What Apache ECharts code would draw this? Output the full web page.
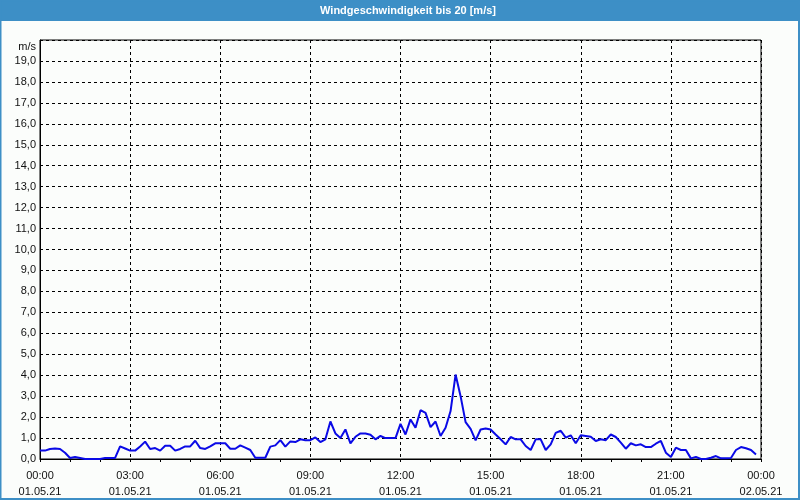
<!DOCTYPE html>
<html>
<head>
<meta charset="utf-8">
<script src="https://cdn.jsdelivr.net/npm/echarts@6/dist/echarts.min.js"></script>
<style>
html,body{margin:0;padding:0;background:#fbfdfb;}
#chart{width:800px;height:500px;}
</style>
</head>
<body>
<div id="chart"></div>
<script>
// Minutes after 01.05.21 00:00
const minutes = [
  0,10,20,30,40,50,60,70,80,90,100,110,120,130,140,150,160,170,180,190,
  200,210,220,230,240,250,260,270,280,290,300,310,320,330,340,350,360,370,380,390,
  400,410,420,430,440,450,460,470,480,490,500,510,520,530,540,550,560,570,580,590,
  600,610,620,630,640,650,660,670,680,690,700,710,720,730,740,750,760,770,780,790,
  800,810,820,830,840,850,860,870,880,890,900,910,920,930,940,950,960,970,980,990,
  1000,1010,1020,1030,1040,1050,1060,1070,1080,1090,1100,1110,1120,1130,1140,1150,1160,1170,1180,1190,
  1200,1210,1220,1230,1240,1250,1260,1270,1280,1290,1300,1310,1320,1330,1340,1350,1360,1370,1380,1390,
  1400,1410,1420,1430
];
// Wind speed in m/s
const windSpeed = [
  0.40,0.40,0.48,0.50,0.48,0.30,0.05,0.10,0.05,0.00,0.00,0.00,0.00,0.05,0.05,0.05,0.60,0.50,0.40,0.40,
  0.60,0.83,0.48,0.52,0.40,0.63,0.63,0.40,0.48,0.60,0.60,0.87,0.52,0.48,0.60,0.75,0.75,0.75,0.49,0.49,
  0.65,0.54,0.43,0.06,0.06,0.06,0.59,0.65,0.90,0.59,0.84,0.81,0.94,0.90,0.90,1.03,0.81,0.94,1.79,1.22,
  1.00,1.41,0.75,1.06,1.22,1.22,1.16,0.94,1.10,1.00,1.00,1.00,1.68,1.17,1.89,1.49,2.33,2.20,1.52,1.79,
  1.10,1.49,2.29,4.03,3.00,1.76,1.44,0.89,1.41,1.46,1.41,1.17,0.94,0.70,1.05,0.94,0.94,0.62,0.43,0.94,
  0.94,0.43,0.70,1.25,1.35,1.02,1.13,0.75,1.13,1.10,1.06,0.86,0.94,0.90,1.17,1.05,0.78,0.49,0.75,0.65,
  0.70,0.57,0.57,0.73,0.86,0.30,0.10,0.54,0.43,0.43,0.03,0.10,0.00,0.00,0.06,0.14,0.03,0.03,0.05,0.43,
  0.57,0.51,0.43,0.22
];
const xTickLabels = [
  '00:00\n01.05.21','03:00\n01.05.21','06:00\n01.05.21','09:00\n01.05.21','12:00\n01.05.21',
  '15:00\n01.05.21','18:00\n01.05.21','21:00\n01.05.21','00:00\n02.05.21'
];
const yTickLabels = ['0,0','1,0','2,0','3,0','4,0','5,0','6,0','7,0','8,0','9,0','10,0',
  '11,0','12,0','13,0','14,0','15,0','16,0','17,0','18,0','19,0',''];
const titleText = 'Windgeschwindigkeit bis 20 [m/s]';
const unitText = 'm/s';

const chart = echarts.init(document.getElementById('chart'), null, {renderer:'canvas'});
const font = "'Liberation Sans', Arial, sans-serif";
const option = {
  backgroundColor: '#fbfdfb',
  animation: false,
  graphic: [
    {type:'rect', shape:{x:0,y:0,width:800,height:21}, style:{fill:'#3d8fc6'}, silent:true},
    {type:'rect', shape:{x:0.5,y:0.5,width:798.5,height:498.5}, style:{fill:null, stroke:'#3d8fc6', lineWidth:2}, silent:true},
    {type:'text', x:408, y:11, style:{text:titleText, fill:'#ffffff', font:"bold 11px " + font, textAlign:'center', textVerticalAlign:'middle'}, silent:true}
  ],
  grid: {left:40, right:39, top:40, bottom:40, show:true, borderColor:'#000', borderWidth:1, backgroundColor:'transparent'},
  xAxis: {
    type:'value', min:0, max:1440, interval:180,
    axisLine:{show:true, lineStyle:{color:'#000', width:1}},
    axisTick:{show:true, length:3, lineStyle:{color:'#000'}},
    minorTick:{show:true, splitNumber:3, length:3, lineStyle:{color:'#000'}},
    splitLine:{show:true, lineStyle:{color:'#000', type:[3,3], width:1}},
    axisLabel:{margin:9, color:'#111', fontFamily:font, fontSize:11, lineHeight:16,
      formatter:function(v){ return xTickLabels[Math.round(v/180)]; }}
  },
  yAxis: {
    type:'value', min:0, max:20, interval:1,
    name:unitText, nameLocation:'end', nameGap:-12,
    nameTextStyle:{color:'#111', fontFamily:font, fontSize:11, align:'right', padding:[0,4,0,0]},
    axisLine:{show:true, lineStyle:{color:'#000', width:1}},
    axisTick:{show:false},
    splitLine:{show:true, lineStyle:{color:'#000', type:[3,3], width:1}},
    axisLabel:{margin:4, color:'#111', fontFamily:font, fontSize:11,
      formatter:function(v){ return yTickLabels[Math.round(v)]; }}
  },
  series: [{
    type:'line',
    data: minutes.map(function(m,i){ return [m, windSpeed[i]]; }),
    showSymbol:false,
    lineStyle:{color:'#0a0ae6', width:2},
    itemStyle:{color:'#0a0ae6'}
  }]
};
chart.setOption(option);
</script>
</body>
</html>
